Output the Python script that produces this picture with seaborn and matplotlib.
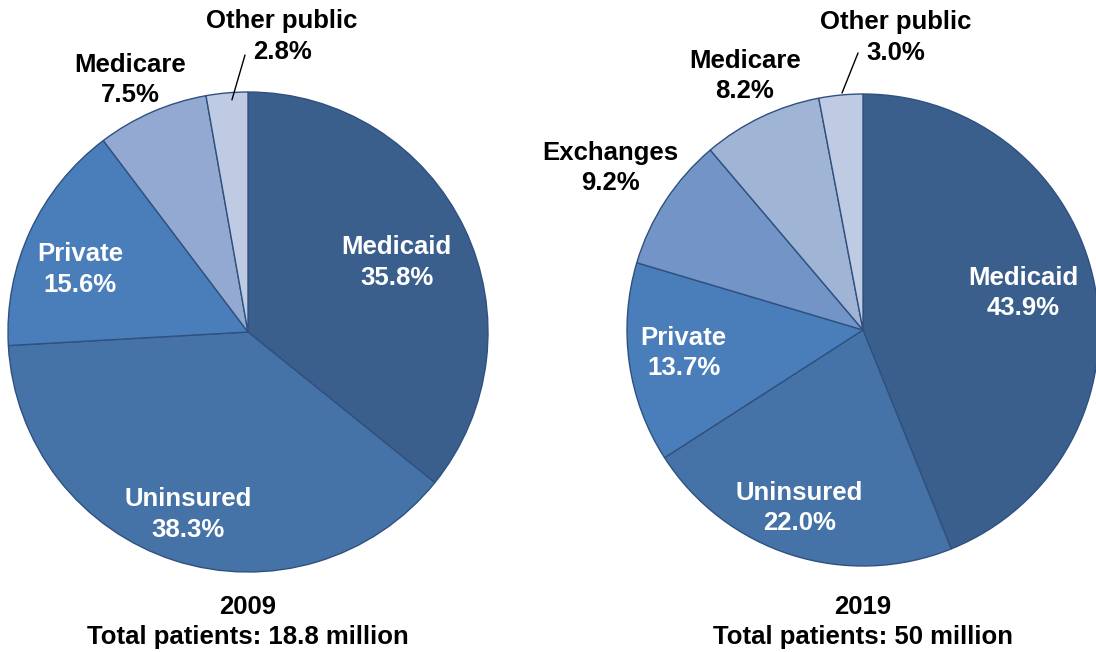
import matplotlib
matplotlib.use("Agg")
import matplotlib.pyplot as plt
import seaborn as sns

sns.set_theme(style="white")
plt.rcParams['font.family'] = ['Liberation Sans', 'DejaVu Sans']

# ---- data ----
labels_2009 = ["Medicaid", "Uninsured", "Private", "Medicare", "Other public"]
values_2009 = [35.8, 38.3, 15.6, 7.5, 2.8]
colors_2009 = ["#3A5F8D", "#4572A7", "#4A7EBB", "#94A9D1", "#BFCBE3"]

labels_2019 = ["Medicaid", "Uninsured", "Private", "Exchanges", "Medicare", "Other public"]
values_2019 = [43.9, 22.0, 13.7, 9.2, 8.2, 3.0]
colors_2019 = ["#3A5F8D", "#4572A7", "#4A7EBB", "#7394C6", "#A0B4D6", "#BFCBE3"]

title_year = ["2009", "2019"]
title_total = ["Total patients: 18.8 million", "Total patients: 50 million"]

# label positions (axes-units, pie radius = 1) and text colors
pos_2009 = [(0.62, 0.29), (-0.25, -0.76), (-0.70, 0.26), (-0.49, 1.05), (0.142, 1.23)]
txtc_2009 = ["white", "white", "white", "black", "black"]
pos_2019 = [(0.68, 0.157), (-0.27, -0.754), (-0.76, -0.097), (-1.07, 0.686), (-0.5, 1.076), (0.14, 1.24)]
txtc_2019 = ["white", "white", "white", "black", "black", "black"]

W, H = 1096, 652
fig = plt.figure(figsize=(W / 100, H / 100), dpi=100)


def draw(cx, cy, r, labels, values, colors, pos, txtc, leader, year, total):
    ax = fig.add_axes([(cx - r) / W, (H - cy - r) / H, 2 * r / W, 2 * r / H])
    ax.pie(values, colors=colors, startangle=90, counterclock=False, radius=1,
           wedgeprops=dict(edgecolor="#2F5180", linewidth=1.0))
    ax.set_xlim(-1, 1)
    ax.set_ylim(-1, 1)
    ax.set_axis_off()
    for lab, v, (x, y), c in zip(labels, values, pos, txtc):
        ax.text(x, y, f"{lab}\n{v:.1f}%", ha="center", va="center", color=c,
                fontsize=18.5, fontweight="bold", linespacing=1.35, clip_on=False)
    (x0, y0), (x1, y1) = leader
    ax.plot([x0, x1], [y0, y1], color="black", lw=1.0, clip_on=False)
    fig.text(cx / W, 1 - 607 / H, year, ha="center", va="center",
             fontsize=18.5, fontweight="bold", color="black")
    fig.text(cx / W, 1 - 637 / H, total, ha="center", va="center",
             fontsize=18.5, fontweight="bold", color="black")


draw(248, 332, 240, labels_2009, values_2009, colors_2009, pos_2009, txtc_2009,
     [(-0.067, 0.967), (-0.0125, 1.154)], title_year[0], title_total[0])
draw(863, 330, 236, labels_2019, values_2019, colors_2019, pos_2019, txtc_2019,
     [(-0.089, 1.004), (-0.021, 1.174)], title_year[1], title_total[1])

fig.savefig("out.png", dpi=100)
